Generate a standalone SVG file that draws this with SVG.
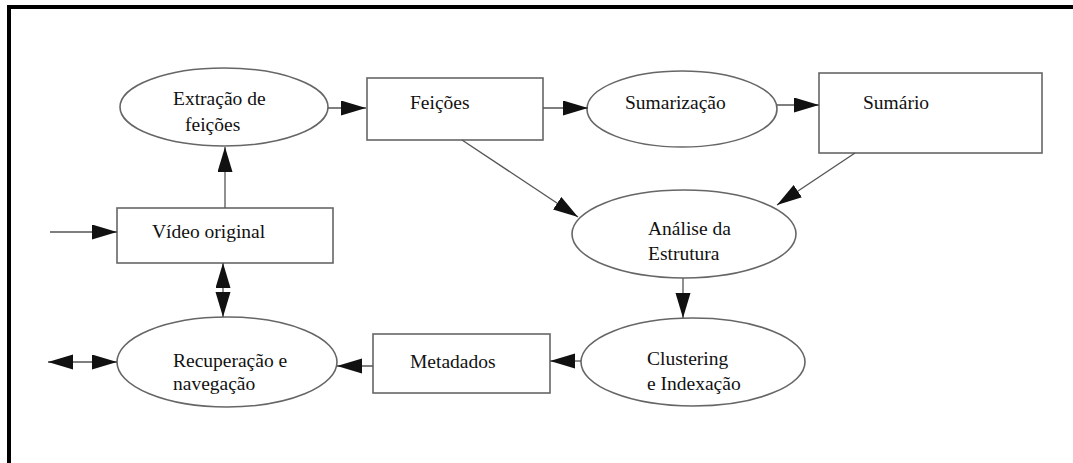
<svg xmlns="http://www.w3.org/2000/svg" width="1073" height="463" viewBox="0 0 1073 463">
<style>
.node{fill:#fff;stroke:#666;stroke-width:1.6}
.lbl{font-family:"Liberation Serif","Times New Roman",serif;font-size:19.5px;fill:#111}
.edge{stroke:#555;stroke-width:1.3;fill:none}
</style>
<defs>
<marker id="ah" markerUnits="userSpaceOnUse" markerWidth="26" markerHeight="16" refX="25" refY="7.5" orient="auto-start-reverse" viewBox="0 0 26 16">
<path d="M0,0 L25,7.5 L0,15 z" fill="#111"/>
</marker>
</defs>
<rect x="0" y="0" width="1073" height="463" fill="#fff"/>
<path d="M9,463 V7 H1073" fill="none" stroke="#000" stroke-width="4"/>

<g id="extracao">
<ellipse class="node" cx="224" cy="107" rx="104" ry="39"/>
<text class="lbl" x="173" y="105">Extração de</text>
<text class="lbl" x="185" y="131">feições</text>
</g>
<g id="feicoes">
<rect class="node" x="367" y="78" width="176" height="62"/>
<text class="lbl" x="410" y="109">Feições</text>
</g>
<g id="sumarizacao">
<ellipse class="node" cx="682" cy="109" rx="95" ry="38"/>
<text class="lbl" x="625" y="109">Sumarização</text>
</g>
<g id="sumario">
<rect class="node" x="819" y="73" width="223" height="80"/>
<text class="lbl" x="863" y="109">Sumário</text>
</g>
<g id="analise">
<ellipse class="node" cx="684" cy="234" rx="112" ry="44"/>
<text class="lbl" x="648" y="235">Análise da</text>
<text class="lbl" x="648" y="260">Estrutura</text>
</g>
<g id="clustering">
<ellipse class="node" cx="693" cy="362" rx="112" ry="44"/>
<text class="lbl" x="647" y="365">Clustering</text>
<text class="lbl" x="647" y="390">e Indexação</text>
</g>
<g id="metadados">
<rect class="node" x="373" y="334" width="177" height="59"/>
<text class="lbl" x="410" y="368">Metadados</text>
</g>
<g id="recuperacao">
<ellipse class="node" cx="227" cy="362" rx="110" ry="45"/>
<text class="lbl" x="173" y="367">Recuperação e</text>
<text class="lbl" x="173" y="390">navegação</text>
</g>
<g id="video">
<rect class="node" x="117" y="208" width="216" height="55"/>
<text class="lbl" x="152" y="238">Vídeo original</text>
</g>

<g id="connectors">
<line class="edge" x1="50" y1="232" x2="117" y2="232" marker-end="url(#ah)"/>
<line class="edge" x1="225" y1="208" x2="225" y2="147" marker-end="url(#ah)"/>
<line class="edge" x1="328" y1="108" x2="366" y2="108" marker-end="url(#ah)"/>
<line class="edge" x1="543" y1="108" x2="588" y2="108" marker-end="url(#ah)"/>
<line class="edge" x1="777" y1="105" x2="819" y2="105" marker-end="url(#ah)"/>
<line class="edge" x1="462" y1="140" x2="578" y2="217" marker-end="url(#ah)"/>
<line class="edge" x1="855" y1="153" x2="777" y2="205" marker-end="url(#ah)"/>
<line class="edge" x1="683" y1="278" x2="683" y2="318" marker-end="url(#ah)"/>
<line class="edge" x1="581" y1="361" x2="550" y2="361" marker-end="url(#ah)"/>
<line class="edge" x1="373" y1="366" x2="337" y2="366" marker-end="url(#ah)"/>
<line class="edge" x1="223" y1="263" x2="223" y2="317" marker-start="url(#ah)" marker-end="url(#ah)"/>
<line class="edge" x1="48" y1="362" x2="117" y2="362" marker-start="url(#ah)" marker-end="url(#ah)"/>
</g>
</svg>
